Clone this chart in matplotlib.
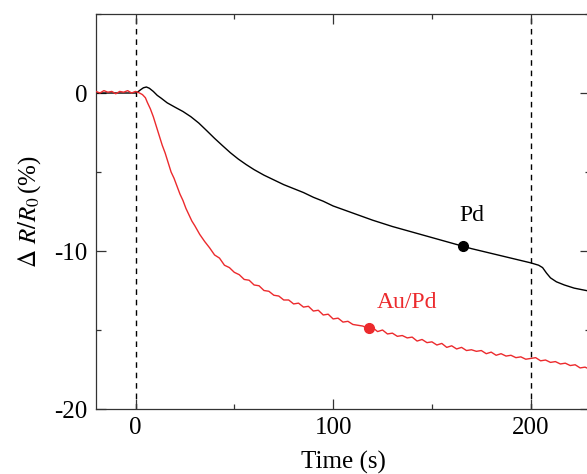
import matplotlib
matplotlib.use('Agg')
import matplotlib.pyplot as plt
from matplotlib.ticker import MultipleLocator

plt.rcParams['font.family'] = ['Liberation Serif', 'DejaVu Serif']
plt.rcParams['mathtext.fontset'] = 'stix'
plt.rcParams['axes.unicode_minus'] = False

# Pd film (black)
t_pd = [-20, -10, 0, 1, 2.5, 4, 5.5, 7, 9, 11, 13, 16, 20, 24, 28, 32, 36, 40, 44, 48,
        52, 56, 60, 65, 70, 75, 80, 85, 90, 95, 100, 110, 120, 130, 140, 150, 160, 170,
        180, 190, 200, 204, 206, 208, 210, 213, 217, 222, 230]
r_pd = [0, 0, 0, 0.05, 0.2, 0.33, 0.38, 0.3, 0.1, -0.15, -0.33, -0.62, -0.9, -1.17, -1.5,
        -1.9, -2.38, -2.87, -3.33, -3.78, -4.18, -4.53, -4.85, -5.2, -5.5, -5.8, -6.05, -6.3,
        -6.6, -6.85, -7.15, -7.6, -8.05, -8.45, -8.8, -9.15, -9.5, -9.85, -10.15, -10.45,
        -10.75, -10.9, -11.05, -11.4, -11.7, -11.95, -12.15, -12.35, -12.55]

# Au/Pd film (red)
t_aupd = [-20, -18, -16, -14, -12, -10, -8, -6, -4, -2, 0, 2, 3.5, 5, 6, 7.5, 9, 10.5,
          12, 13.5, 15, 16.5, 18, 19.5, 21, 22.5, 24, 25.5, 27, 28.5,
          30, 32.5, 35, 37.5, 40, 42.5, 45, 47.5, 50, 52.5, 55, 57.5, 60, 62.5, 65, 67.5,
          70, 72.5, 75, 77.5, 80, 82.5, 85, 87.5, 90, 92.5, 95, 97.5, 100, 102.5, 105,
          107.5, 110, 112.5, 115, 117.5, 120, 122.5, 125, 127.5, 130, 132.5, 135, 137.5,
          140, 142.5, 145, 147.5, 150, 152.5, 155, 157.5, 160, 162.5, 165, 167.5, 170,
          172.5, 175, 177.5, 180, 182.5, 185, 187.5, 190, 192.5, 195, 197.5, 200, 202.5,
          205, 207.5, 210, 212.5, 215, 217.5, 220, 222.5, 225, 227.5, 230]
r_aupd = [0.1, 0.0, 0.15, 0.05, 0.1, -0.05, 0.1, 0.05, 0.15, 0.0, 0.1, 0.0, -0.1, -0.3,
          -0.6, -1.0, -1.5, -2.1, -2.7, -3.3, -3.8, -4.4, -5.0, -5.4, -5.9, -6.4, -6.8,
          -7.3, -7.7, -8.1,
          -8.4, -8.95, -9.4, -9.8, -10.25, -10.45, -10.9, -11.05, -11.35, -11.5, -11.8,
          -11.85, -12.15, -12.2, -12.5, -12.55, -12.8, -12.85, -13.1, -13.1, -13.35, -13.3,
          -13.55, -13.5, -13.8, -13.75, -14.05, -14.0, -14.3, -14.25, -14.5, -14.45, -14.65,
          -14.7, -14.75, -14.9, -14.85, -15.1, -15.0, -15.25, -15.2, -15.4, -15.35, -15.5,
          -15.45, -15.7, -15.6, -15.8, -15.75, -15.95, -15.85, -16.1, -16.0, -16.2, -16.1,
          -16.3, -16.25, -16.35, -16.3, -16.5, -16.4, -16.6, -16.5, -16.65, -16.6, -16.75,
          -16.7, -16.85, -16.8, -16.75, -16.95, -16.9, -17.05, -17.0, -17.15, -17.1, -17.25,
          -17.2, -17.4, -17.35, -17.5]

# marked points and labels
pd_mark = (165.5, -9.7)
aupd_mark = (118, -14.88)
event_times = [0, 200]

red = '#ec2a2d'

fig = plt.figure(figsize=(5.87, 4.74), dpi=100)
ax = fig.add_axes([96 / 587, 65 / 474, 494 / 587, 395 / 474])

for tv in event_times:
    ax.axvline(tv, color='black', lw=1.0, ls=(0, (4, 3.5)), zorder=1)

ax.plot(t_pd, r_pd, color='black', lw=1.0, zorder=2)
ax.plot(t_aupd, r_aupd, color=red, lw=1.0, zorder=3)

ax.plot(*pd_mark, 'o', color='black', ms=7, zorder=4)
ax.plot(*aupd_mark, 'o', color=red, ms=7, zorder=4)
ax.text(170, -7.75, 'Pd', color='black', fontsize=17, ha='center', va='center')
ax.text(137.5, -13.25, 'Au/Pd', color=red, fontsize=17, ha='center', va='center')

ax.set_xlim(-20, 230)
ax.set_ylim(-20, 5)
ax.xaxis.set_major_locator(MultipleLocator(100))
ax.xaxis.set_minor_locator(MultipleLocator(50))
ax.yaxis.set_major_locator(MultipleLocator(10))
ax.yaxis.set_minor_locator(MultipleLocator(5))
ax.tick_params(which='both', direction='in', top=True, right=True, labelsize=18,
               width=0.9, color='#333333')
ax.tick_params(which='major', length=7, pad=6)
ax.tick_params(which='minor', length=3.5)
for s in ax.spines.values():
    s.set_linewidth(0.9)
    s.set_color('#333333')

ax.set_xlabel('Time (s)', fontsize=18, labelpad=8)
ax.set_ylabel(r'$\Delta\ R/R_0\,$(%)', fontsize=18, labelpad=8)

fig.savefig('out.png', dpi=100)
